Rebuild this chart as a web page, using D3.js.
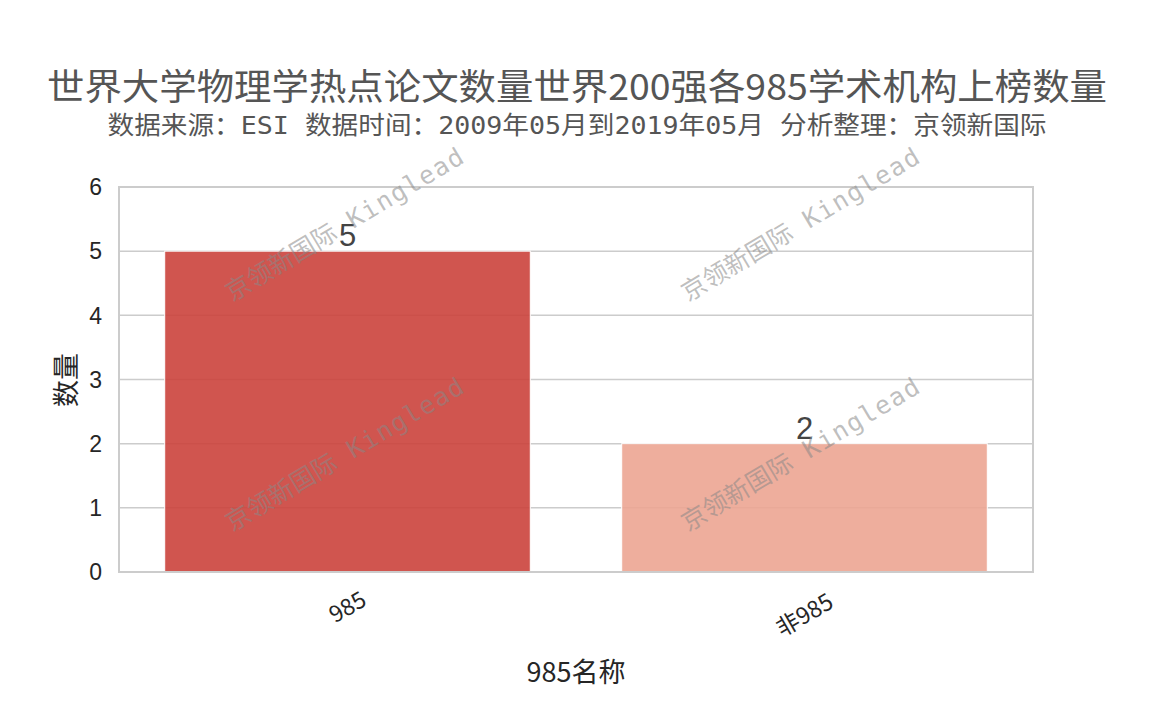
<!DOCTYPE html>
<html><head><meta charset="utf-8">
<script src="https://cdn.jsdelivr.net/npm/d3@7"></script>
<style>body{margin:0;background:#fff}svg{display:block}</style>
</head><body><svg id="c" width="1152" height="720"></svg>
<script>
const categories = ["985", "非985"];
const values = [5, 2];
const yTicks = [0, 1, 2, 3, 4, 5, 6];
const barColors = ["#cb423c", "#eca592"];
const titleText = "世界大学物理学热点论文数量世界200强各985学术机构上榜数量";
const subtitleText = "数据来源：ESI 数据时间：2009年05月到2019年05月 分析整理：京领新国际";
const xLabel = "985名称";
const yLabel = "数量";
const watermarkCn = "京领新国际";
const watermarkEn = " Kinglead";

const svg = d3.select("#c");
const m = {l:119, r:1033, t:187, b:572};
const x = d3.scaleBand().domain(categories).range([m.l, m.r]).paddingInner(0.2).paddingOuter(0.1);
const y = d3.scaleLinear().domain([0, 6]).range([m.b, m.t]);
const cjk = "'Noto Sans CJK SC', sans-serif";
const mono = "'DejaVu Sans Mono', 'Noto Sans CJK SC', monospace";
const sans = "'Liberation Sans', Arial, sans-serif";

svg.append("text").attr("x", 577).attr("y", 100).attr("text-anchor","middle")
  .attr("font-family", cjk).attr("font-size", 36).attr("fill","#555")
  .attr("textLength", 1060).attr("lengthAdjust","spacingAndGlyphs").text(titleText);
svg.append("text").attr("x", 577).attr("y", 134).attr("text-anchor","middle")
  .attr("font-family", mono).attr("font-size", 25).attr("fill","#555")
  .attr("textLength", 939).attr("lengthAdjust","spacingAndGlyphs").text(subtitleText);

// grid
svg.append("g").selectAll("line").data(yTicks).join("line")
  .attr("x1", m.l).attr("x2", m.r).attr("y1", d=>y(d)).attr("y2", d=>y(d))
  .attr("stroke","#cccccc").attr("stroke-width",1.5);

// bars
svg.append("g").selectAll("rect").data(categories).join("rect")
  .attr("x", d=>x(d)).attr("width", x.bandwidth())
  .attr("y", (d,i)=>y(values[i])).attr("height", (d,i)=>y(0)-y(values[i]))
  .attr("fill", (d,i)=>barColors[i]).attr("fill-opacity", 0.9)
  .attr("stroke","#fff").attr("stroke-width",1);

// frame
svg.append("rect").attr("x", m.l).attr("y", m.t).attr("width", m.r-m.l).attr("height", m.b-m.t)
  .attr("fill","none").attr("stroke","#cccccc").attr("stroke-width",2);

// y ticks
svg.append("g").selectAll("text").data(yTicks).join("text")
  .attr("x", 102).attr("y", d=>y(d)).attr("dy","0.36em").attr("text-anchor","end")
  .attr("font-family", sans).attr("font-size",23).attr("fill","#262626")
  .text(d=>d);

// x ticks
svg.append("g").selectAll("text").data(categories).join("text")
  .attr("transform", d=>`translate(${x(d)+x.bandwidth()/2},${d==="985"?607:615}) rotate(-30)`)
  .attr("text-anchor","middle").attr("dy","0.35em")
  .attr("font-family", cjk).attr("font-size",23).attr("fill","#262626").text(d=>d);

// axis labels
svg.append("text").attr("x", 576).attr("y", 682).attr("text-anchor","middle")
  .attr("font-family", cjk).attr("font-size",27).attr("fill","#262626").text(xLabel);
svg.append("text").attr("transform","translate(76,380) rotate(-90)").attr("text-anchor","middle")
  .attr("font-family", cjk).attr("font-size",27).attr("fill","#262626").text(yLabel);

// value labels
svg.append("g").selectAll("text").data(categories).join("text")
  .attr("x", d=>x(d)+x.bandwidth()/2).attr("y", (d,i)=>y(values[i])-5).attr("text-anchor","middle")
  .attr("font-family", sans).attr("font-size",31).attr("fill","#444")
  .text((d,i)=>values[i]);

// watermarks
const wm = [[232,302],[688,302],[232,532],[688,532]];
const wt = svg.append("g").selectAll("text").data(wm).join("text")
  .attr("transform", d=>`translate(${d[0]},${d[1]}) rotate(-31)`)
  .attr("font-family", mono).attr("font-size",25).attr("fill","#888").attr("fill-opacity",0.55)
  .attr("xml:space","preserve");
wt.append("tspan").text(watermarkCn);
wt.append("tspan").attr("letter-spacing", 1.5).text(watermarkEn);
</script></body></html>
